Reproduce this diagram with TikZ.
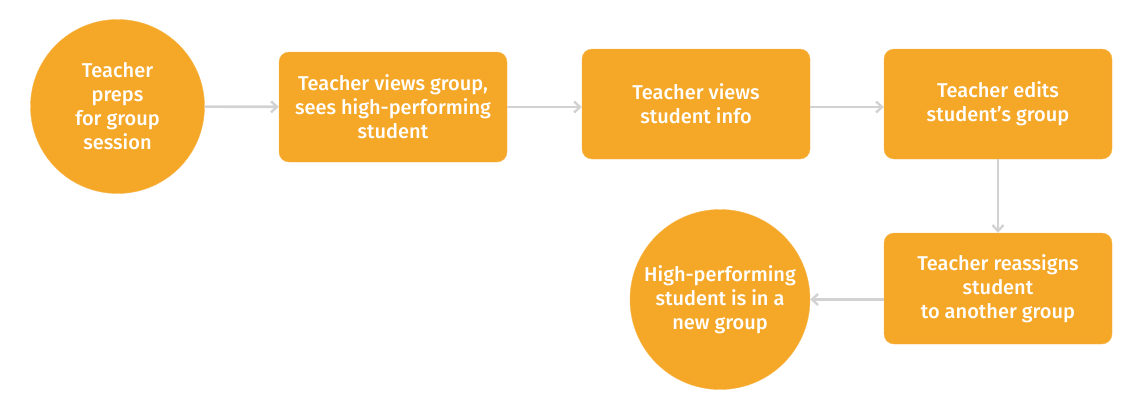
\documentclass[tikz,border=0pt]{standalone}
\usepackage{fontspec}
\setmainfont{Fira Sans Medium}
\usetikzlibrary{arrows.meta}
\definecolor{stepfill}{HTML}{F5A727}
\definecolor{flowgray}{HTML}{D2D2D2}
\tikzset{
  stepbox/.style={rectangle, rounded corners=10pt, fill=stepfill, draw=stepfill!80!white,
    text=white, align=center, minimum width=228pt, minimum height=110pt,
    inner sep=0pt, font=\fontsize{20pt}{24pt}\selectfont},
  endcircle/.style={circle, fill=stepfill, draw=stepfill!80!white, text=white,
    align=center, inner sep=0pt, font=\fontsize{20pt}{24pt}\selectfont},
  flow/.style={draw=flowgray, line width=2.6pt, -{Straight Barb[length=6pt, width=11pt, line width=2.4pt]}}
}
\begin{document}
\begin{tikzpicture}[x=1pt, y=1pt]
      \useasboundingbox (0, 0) rectangle (1139, -410);
      \node [endcircle, minimum size=174pt] (prep) at (117.5, -106.5)
        {Teacher\\preps\\for group\\session};
      \node [stepbox] (view) at (393, -107)
        {Teacher views group,\\sees high-performing\\student};
      \node [stepbox] (info) at (696, -104)
        {Teacher views\\student info};
      \node [stepbox] (edit) at (998, -104)
        {Teacher edits\\student’s group};
      \node [stepbox, minimum height=111pt] (reassign) at (998, -288.5)
        {Teacher reassigns\\student\\to another group};
      \node [endcircle, minimum size=180pt] (done) at (720, -299.5)
        {High-performing\\student is in a\\new group};
      \draw [flow] (prep) -- (view);
      \draw [flow] (view.east) -- (view.east -| info.west);
      \draw [flow] (view.east -| info.east) -- (view.east -| edit.west);
      \draw [flow] (edit) -- (reassign);
      \draw [flow] (reassign.west |- done) -- (done);
    \end{tikzpicture}
\end{document}
